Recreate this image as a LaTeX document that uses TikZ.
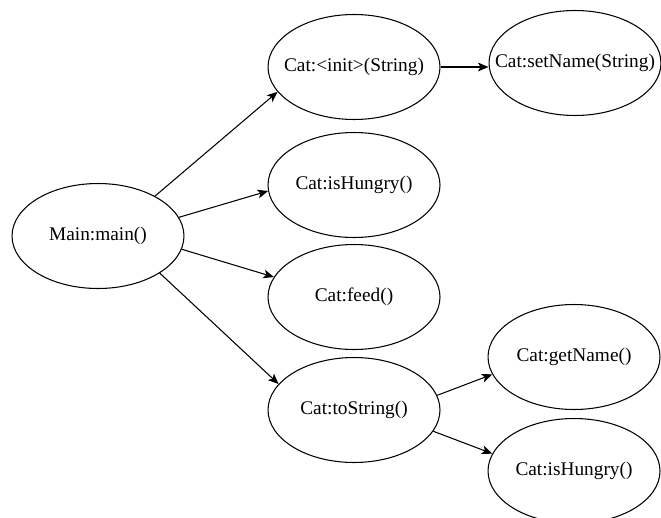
\documentclass[tikz,border=0pt]{standalone}
\usepackage{fontspec}
\setmainfont{Liberation Serif}
\usetikzlibrary{arrows.meta,shapes.geometric}

% keep the ellipse size fixed whatever the text width
\newcommand{\callname}[1]{\makebox[2cm]{#1}}

\begin{document}
\begin{tikzpicture}[
  x=0.02cm, y=-0.02cm,
  >={Stealth[length=6pt,width=5pt,inset=1.5pt]},
  call/.style={draw, ellipse, line width=0.6pt, inner sep=0pt, minimum width=3.44cm, minimum height=2.1cm, font=\fontsize{11}{13}\selectfont},
  link/.style={->, line width=0.6pt}
]
  \useasboundingbox (0,0) rectangle (661,517);

  \node[call] (main) at (98,236) {\callname{Main:main()}};
  \node[call] (init) at (354,67) {\callname{Cat:<init>(String)}};
  \node[call] (setname) at (575,63) {\callname{Cat:setName(String)}};
  \node[call] (hungry) at (354,185) {\callname{Cat:isHungry()}};
  \node[call] (feed) at (354,297) {\callname{Cat:feed()}};
  \node[call] (tostring) at (354,410) {\callname{Cat:toString()}};
  \node[call] (getname) at (574,357) {\callname{Cat:getName()}};
  \node[call] (hungrytwo) at (574,471) {\callname{Cat:isHungry()}};

  \draw[link] (main.35) -- (init.198);
  \draw[link] (main.13) -- (hungry.184);
  \draw[link] (main.351) -- (feed.166);
  \draw[link] (main.329) -- (tostring.161);
  \draw[link] (init.east) -- (setname.west |- init.east);
  \draw[link] (tostring.10) -- (getname.192);
  \draw[link] (tostring.345) -- (hungrytwo.168);
\end{tikzpicture}
\end{document}
